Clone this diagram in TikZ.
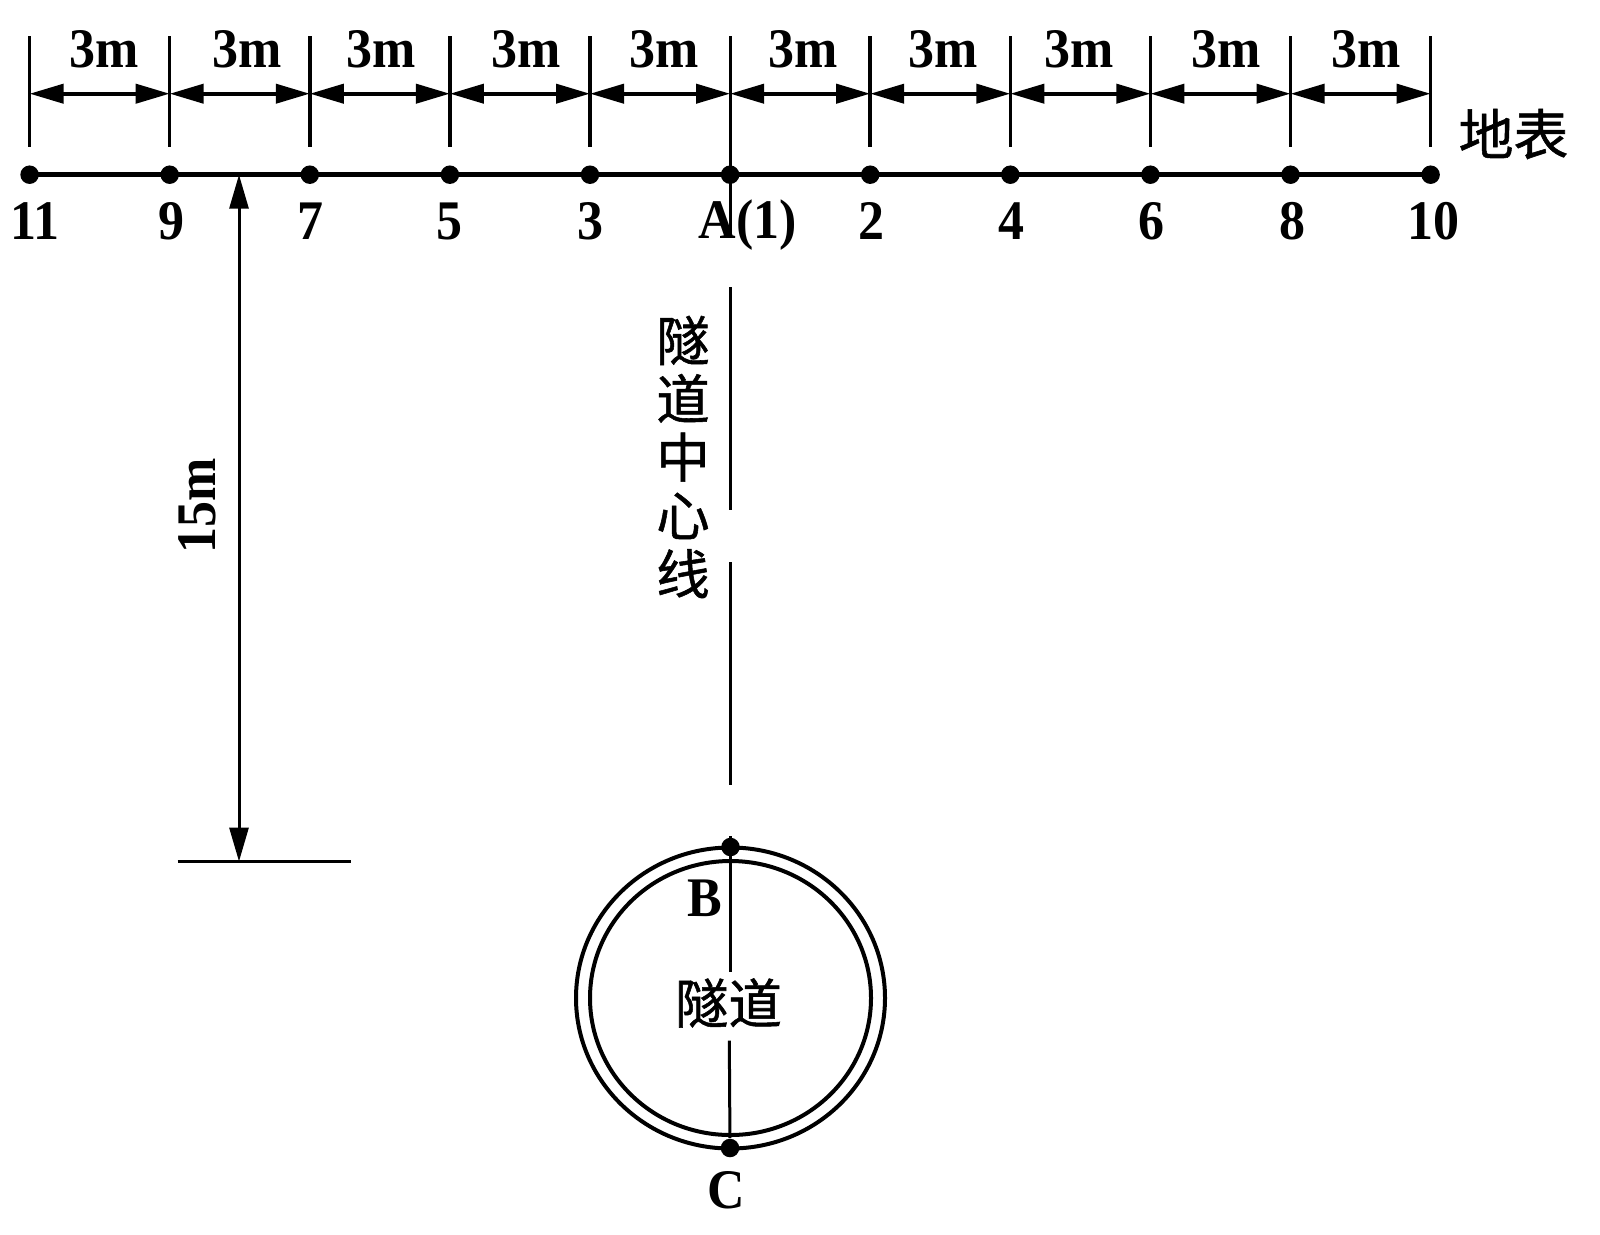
\documentclass[tikz,border=0pt]{standalone}
\usepackage{fontspec}
\setmainfont[FakeStretch=0.93]{Liberation Serif}
\newfontfamily\cjk[FakeBold=1]{Noto Sans CJK SC}
\usetikzlibrary{arrows.meta}
\tikzset{
	dot/.style={circle, fill=black, inner sep=0, minimum size=0.185cm},
	dim/.style={line width=0.04cm, {Triangle[length=0.34cm,width=0.19cm]}-{Triangle[length=0.34cm,width=0.19cm]}},
	thin line/.style={line width=0.035cm},
	ring/.style={line width=0.04cm},
	label/.style={inner sep=0, font=\fontsize{15.9}{17}\selectfont\bfseries},
	hanzi/.style={inner sep=0, align=center, font=\fontsize{15.2}{16.6}\selectfont\cjk}
}

\begin{document}
\begin{tikzpicture}
	%%%%% SURFACE %%%%%
	\useasboundingbox (0, 0) rectangle (16, 12.34);
	
	\foreach \n [count=\k from 0, evaluate=\k as \x using 0.296+1.401*\k] in {11,9,7,5,3,A,2,4,6,8,10} {
		\node[dot] (p\n) at (\x, 10.593) {};
		\coordinate (t\n) at (\x, 11.98);
		\coordinate (m\n) at (\x, 11.403);
		\coordinate (b\n) at (\x, 10.87);
	}
	\draw[line width=0.045cm] (p11.center) -- (p10.center);
	
	\foreach \n in {11,9,7,5,3,2,4,6,8,10} {
		\draw[thin line] (t\n) -- (b\n);
	}
	\foreach \a/\b in {11/9,9/7,7/5,5/3,3/A,A/2,2/4,4/6,6/8,8/10} {
		\draw[dim] (m\a) -- (m\b);
	}
	
	\foreach \name/\x in {d1/1.04,d2/2.47,d3/3.81,d4/5.26,d5/6.64,d6/8.03,d7/9.43,d8/10.79,d9/12.26,d10/13.66} {
		\node[label] (\name) at (\x, 11.845) {3m};
	}
	
	\foreach \name/\x/\txt in {l11/0.347/11,l9/1.71/9,l7/3.10/7,l5/4.49/5,l3/5.90/3,l2/8.71/2,l4/10.11/4,l6/11.51/6,l8/12.92/8,l10/14.33/10} {
		\node[label] (\name) at (\x, 10.13) {\txt};
	}
	\node[label] (lA) at (7.48, 10.09) {A(1)};
	\node[hanzi] (surface) at (15.135, 11.0) {\fontsize{15.6}{16}\selectfont 地表};
	
	%%%%% CENTRE LINE %%%%%
	\coordinate (a1) at (7.306, 11.98);
	\coordinate (a2) at (7.306, 9.99);
	\coordinate (a3) at (7.306, 9.47);
	\coordinate (a4) at (7.306, 7.24);
	\coordinate (a5) at (7.306, 6.72);
	\coordinate (a6) at (7.306, 4.49);
	\draw[thin line] (a1) -- (a2);
	\draw[thin line] (a3) -- (a4);
	\draw[thin line] (a5) -- (a6);
	\node[hanzi] (axis) at (6.83, 7.77) {隧\\道\\中\\心\\线};
	
	%%%%% DEPTH %%%%%
	\coordinate (d0) at (2.39, 10.593);
	\coordinate (d15) at (2.39, 3.725);
	\coordinate (g1) at (1.775, 3.725);
	\coordinate (g2) at (3.505, 3.725);
	\draw[dim, line width=0.03cm] (d0) -- (d15);
	\draw[thin line] (g1) -- (g2);
	\node[label, rotate=90] (depth) at (1.97, 7.28) {15m};
	
	%%%%% TUNNEL %%%%%
	\coordinate (o) at (7.305, 2.36);
	\draw[ring] (o) ellipse (1.545 and 1.505);
	\draw[ring] (o) ellipse (1.405 and 1.37);
	
	\node[dot] (pB) at (7.305, 3.87) {};
	\node[dot] (pC) at (7.30, 0.86) {};
	\coordinate (e1) at (7.303, 3.98);
	\coordinate (e2) at (7.303, 2.62);
	\coordinate (e3) at (7.293, 1.933);
	\draw[line width=0.03cm] (e1) -- (e2);
	\draw[line width=0.03cm] (e3) -- (pC);
	
	\node[label] (lB) at (7.05, 3.36) {B};
	\node[label] (lC) at (7.26, 0.44) {C};
	\node[hanzi] (tunnel) at (7.285, 2.31) {隧道};
\end{tikzpicture}
\end{document}
